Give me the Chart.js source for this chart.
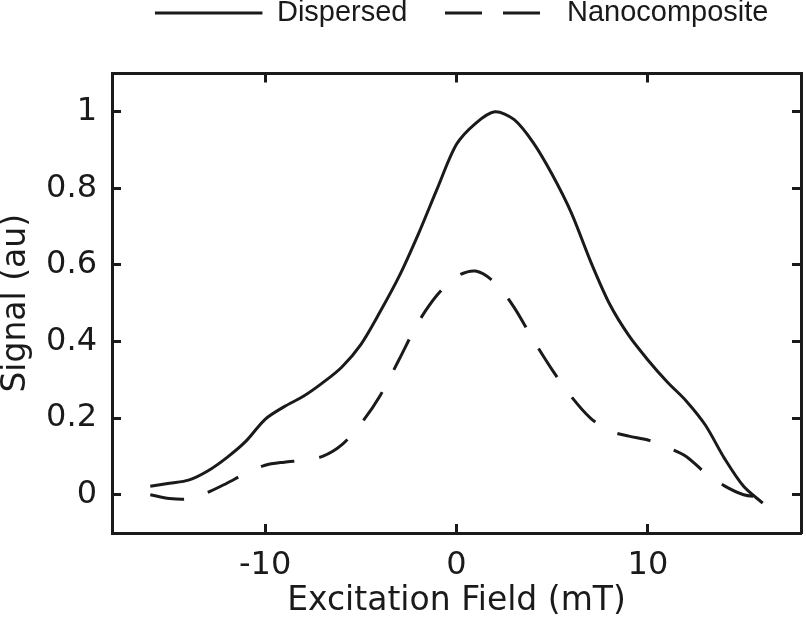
<!DOCTYPE html>
<html>
<head>
<meta charset="utf-8">
<title>Signal vs Excitation Field</title>
<script src="https://cdn.jsdelivr.net/npm/chart.js@4.4.1/dist/chart.umd.min.js"></script>
<style>
  html, body { margin: 0; padding: 0; background: #fff; }
  canvas { display: block; }
</style>
</head>
<body>
<canvas id="signalChart" width="806" height="618"></canvas>
<script>
// values, one point per mT
const fieldValues = [-16, -15, -14, -13, -12, -11, -10, -9, -8, -7, -6, -5, -4, -3, -2, -1, 0,
  1, 2, 3, 4, 5, 6, 7, 8, 9, 10, 11, 12, 13, 14, 15, 16];
const dispersed = [0.022, 0.03, 0.038, 0.062, 0.097, 0.14, 0.197, 0.23, 0.257, 0.292, 0.333, 0.392, 0.477,
  0.57, 0.68, 0.8, 0.915, 0.97, 1.0, 0.98, 0.92, 0.836, 0.736, 0.61, 0.498, 0.416, 0.352, 0.295, 0.245,
  0.182, 0.095, 0.022, -0.022];
const nanocomposite = [0.0, -0.01, -0.011, 0.006, 0.03, 0.056, 0.077, 0.085, 0.09, 0.1, 0.13, 0.185, 0.258,
  0.353, 0.45, 0.522, 0.57, 0.584, 0.554, 0.49, 0.405, 0.326, 0.256, 0.2, 0.167, 0.153, 0.143, 0.124, 0.1,
  0.057, 0.023, 0.0, -0.006];
const xTickValues = [-10, 0, 10];
const yTickValues = [0, 0.2, 0.4, 0.6, 0.8, 1];

const ink = "#1a1a1a";
const wideFont = "'DejaVu Sans', sans-serif";

function toPoints(ys) {
  return fieldValues.map((x, i) => ({ x: x, y: ys[i] }));
}

function fixTicks(values) {
  return scale => { scale.ticks = values.map(v => ({ value: v })); };
}

function frameGrid() {
  return { drawOnChartArea: false, drawTicks: true, tickLength: -9, tickWidth: 3, tickColor: ink };
}
const frameBorder = { display: true, color: ink, width: 3 };

const ctx = document.getElementById("signalChart").getContext("2d");

new Chart(ctx, {
  type: "line",
  data: {
    datasets: [
      {
        label: "Dispersed",
        data: toPoints(dispersed),
        borderColor: ink,
        borderWidth: 3,
        pointRadius: 0,
        tension: 0.3,
        fill: false
      },
      {
        label: "Nanocomposite",
        data: toPoints(nanocomposite),
        borderColor: ink,
        borderWidth: 3,
        borderDash: [34, 25],
        pointRadius: 0,
        tension: 0.3,
        fill: false
      }
    ]
  },
  options: {
    responsive: false,
    devicePixelRatio: 1,
    animation: false,
    layout: { padding: { top: -39, left: 0, right: 0, bottom: 0 } },
    plugins: {
      tooltip: { enabled: false },
      legend: {
        position: "top",
        align: "end",
        labels: {
          color: ink,
          font: { family: "'Liberation Sans', Arial, sans-serif", size: 29 },
          usePointStyle: true,
          pointStyle: "line",
          pointStyleWidth: 107.5,
          padding: 37.5,
          generateLabels: chart => {
            const items = Chart.defaults.plugins.legend.labels.generateLabels(chart);
            items.forEach(item => {
              const ds = chart.data.datasets[item.datasetIndex];
              item.pointStyle = "line";
              item.lineWidth = 3;
              item.strokeStyle = ink;
              if (ds.borderDash) {
                item.lineDash = [37, 21];
                item.lineDashOffset = 0;
              }
            });
            return items;
          }
        }
      }
    },
    scales: {
      x: {
        type: "linear",
        position: "bottom",
        min: -18,
        max: 18,
        afterBuildTicks: fixTicks(xTickValues),
        afterFit: scale => { scale.height = 85; },
        grid: frameGrid(),
        border: frameBorder,
        ticks: {
          color: ink,
          font: { family: wideFont, size: 32 },
          padding: 22,
          maxRotation: 0,
          callback: v => String(v)
        },
        title: {
          display: true,
          text: "Excitation Field (mT)",
          color: ink,
          font: { family: wideFont, size: 33, lineHeight: 1 },
          padding: 0
        }
      },
      x2: {
        type: "linear",
        position: "top",
        min: -18,
        max: 18,
        afterBuildTicks: fixTicks(xTickValues),
        afterFit: scale => { scale.height = 36; },
        grid: frameGrid(),
        border: frameBorder,
        ticks: { display: false }
      },
      y: {
        type: "linear",
        position: "left",
        min: -0.1,
        max: 1.1,
        afterBuildTicks: fixTicks(yTickValues),
        afterFit: scale => { scale.width = 112; },
        grid: frameGrid(),
        border: frameBorder,
        ticks: {
          color: ink,
          font: { family: wideFont, size: 32 },
          padding: 24,
          callback: v => String(v)
        },
        title: {
          display: true,
          text: "Signal (au)",
          color: ink,
          font: { family: wideFont, size: 33, lineHeight: 1 },
          padding: { top: 0, bottom: 0 }
        }
      },
      y2: {
        type: "linear",
        position: "right",
        min: -0.1,
        max: 1.1,
        afterBuildTicks: fixTicks(yTickValues),
        afterFit: scale => { scale.width = 5; },
        grid: frameGrid(),
        border: frameBorder,
        ticks: { display: false }
      }
    }
  }
});
</script>
</body>
</html>
